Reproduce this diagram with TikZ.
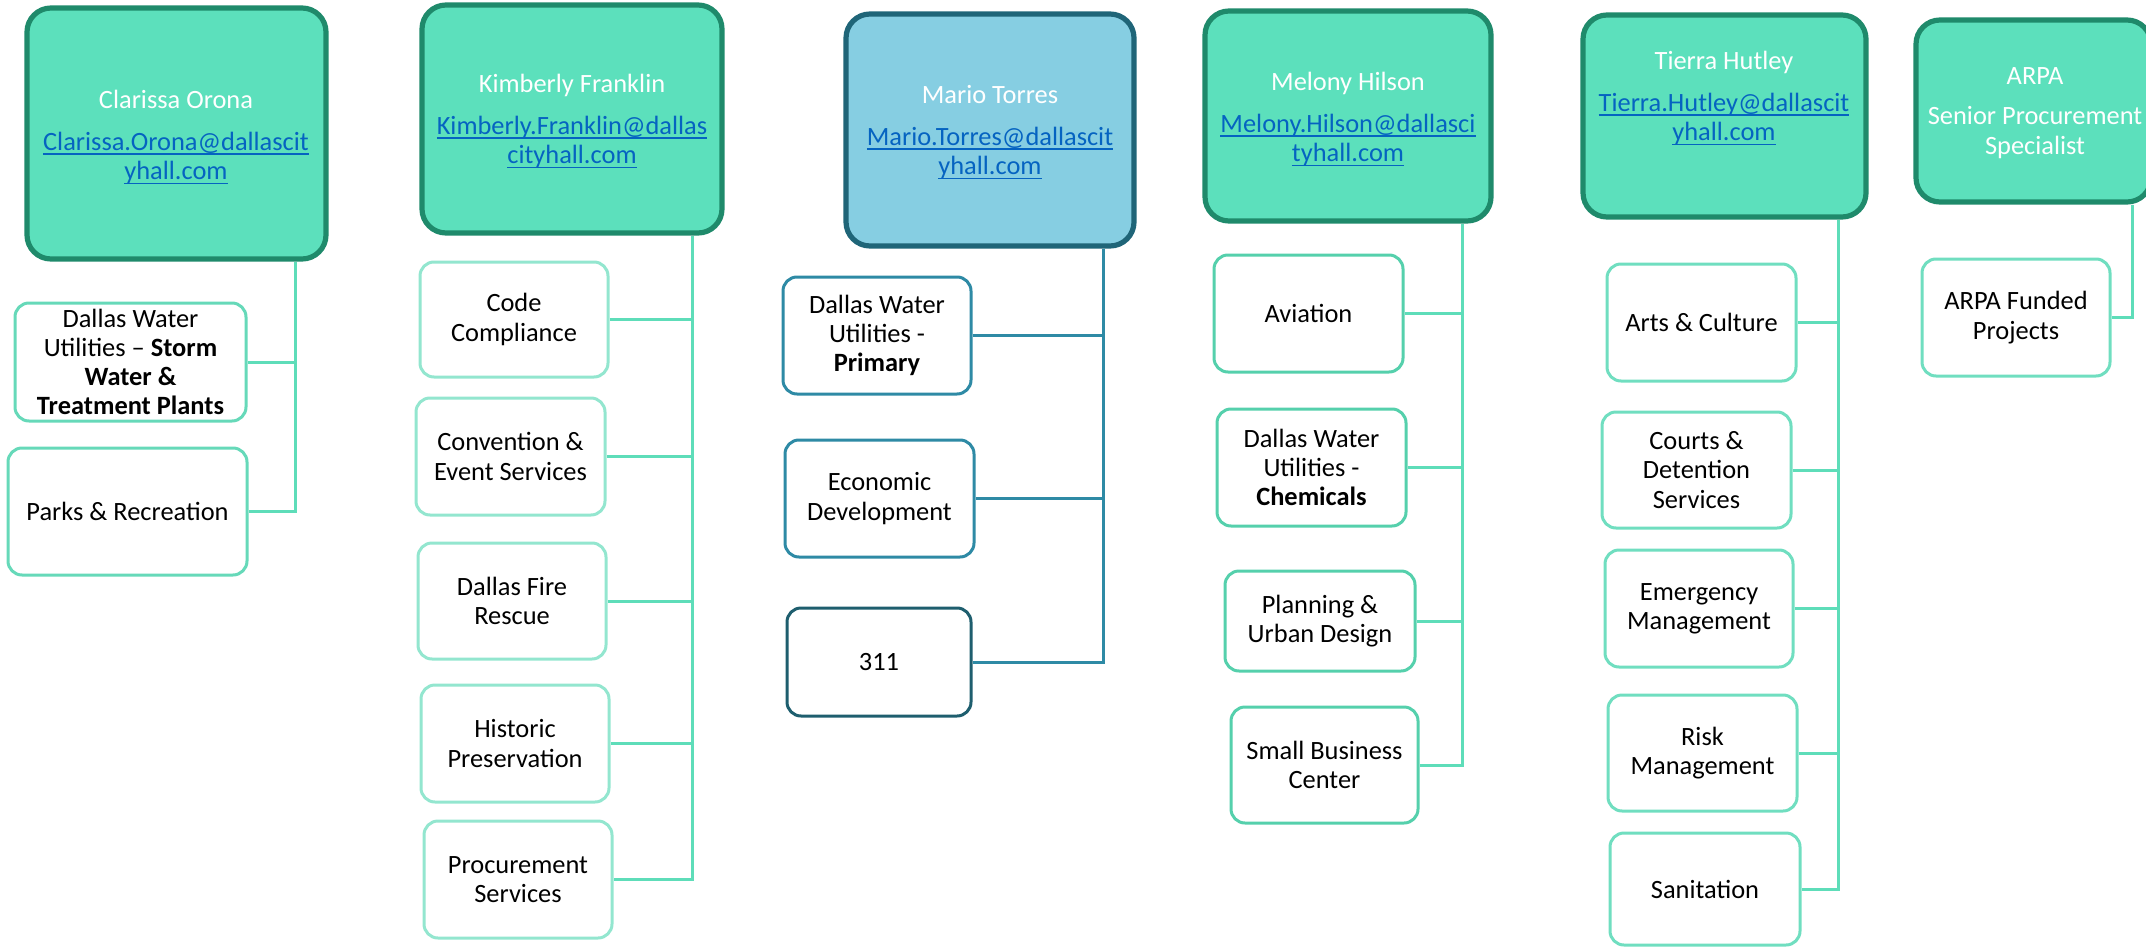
\documentclass[tikz,border=0pt]{standalone}
\usepackage{fontspec}
\setmainfont{Carlito}
\usetikzlibrary{backgrounds}
\definecolor{hfill}{HTML}{5CE0BC}
\definecolor{hdraw}{HTML}{1F8A6B}
\definecolor{mfill}{HTML}{86CEE2}
\definecolor{mdraw}{HTML}{1F6578}
\definecolor{gline}{HTML}{5EDDB9}
\definecolor{bline}{HTML}{2E8AA5}
\definecolor{lnkc}{HTML}{0563C1}
\definecolor{kbor}{HTML}{93E6CF}
\definecolor{cbor}{HTML}{66D9B9}
\definecolor{mbor}{HTML}{55D0AC}
\definecolor{tbor}{HTML}{70DEC0}
\definecolor{mthree}{HTML}{1E5E6E}
\newcommand{\fs}{\fontsize{13.2pt}{14.6pt}\selectfont}
\newcommand{\lnk}[1]{{\color{lnkc}\setbox0\hbox{#1}\rlap{\rule[-2.3pt]{\wd0}{0.75pt}}\box0}}
\newcommand{\bx}[7]{\node[#2, minimum width={(#5-#3-2)*0.5pt}, minimum height={(#6-#4-2)*0.5pt}] (#1) at ({(#3+#5)/2},{(#4+#6)/2}) {#7};}
\tikzset{
  hdr/.style={draw=hdraw, fill=hfill, line width=2.6pt, rounded corners=12pt, inner sep=0pt},
  mhdr/.style={hdr, draw=mdraw, fill=mfill},
  kid/.style={draw, fill=white, line width=1.5pt, rounded corners=7pt, inner sep=0pt, align=center, font=\fs, text=black},
  htxt/.style={align=center, font=\fs, text=white, inner sep=0pt},
  gconn/.style={draw=gline, line width=1.5pt},
  bconn/.style={draw=bline, line width=1.5pt}
}
\begin{document}
\begin{tikzpicture}[x=0.5pt, y=-0.5pt]
\useasboundingbox (0,0) rectangle (2146,947);
% headers
\bx{h1}{hdr}{26}{7}{327}{260}{}
\bx{h2}{hdr}{421}{4}{723}{234}{}
\bx{h3}{mhdr}{845}{13}{1135}{247}{}
\bx{h4}{hdr}{1204}{10}{1492}{222}{}
\bx{h5}{hdr}{1582}{14}{1867}{218}{}
\bx{h6}{hdr}{1915}{19}{2152}{203}{}
% header texts
\node[htxt] (t1) at (176,137) {Clarissa Orona\\[6.5pt]\lnk{Clarissa.Orona@dallascit}\\\lnk{yhall.com}};
\node[htxt] (t2) at (572,121) {Kimberly Franklin\\[6.5pt]\lnk{Kimberly.Franklin@dallas}\\\lnk{cityhall.com}};
\node[htxt] (t3) at (990,132) {Mario Torres\\[6.5pt]\lnk{Mario.Torres@dallascit}\\\lnk{yhall.com}};
\node[htxt] (t4) at (1348,119) {Melony Hilson\\[6.5pt]\lnk{Melony.Hilson@dallasci}\\\lnk{tyhall.com}};
\node[htxt] (t5) at (1724,98) {Tierra Hutley\\[6.5pt]\lnk{Tierra.Hutley@dallascit}\\\lnk{yhall.com}};
\node[htxt] (t6) at (2035,113) {ARPA\\[5.5pt]Senior Procurement\\Specialist};
% Clarissa children
\bx{k1a}{kid, draw=cbor}{14}{302}{247}{422}{Dallas Water\\Utilities -- \textbf{Storm}\\\textbf{Water \&}\\\textbf{Treatment Plants}}
\bx{k1b}{kid, draw=cbor}{7}{447}{248}{576}{Parks \& Recreation}
% Kimberly children
\bx{k2a}{kid, draw=kbor}{419}{261}{609}{378}{Code\\Compliance}
\bx{k2b}{kid, draw=kbor}{415}{397}{606}{516}{Convention \&\\Event Services}
\bx{k2c}{kid, draw=kbor}{417}{542}{607}{660}{Dallas Fire\\Rescue}
\bx{k2d}{kid, draw=kbor}{420}{684}{610}{803}{Historic\\Preservation}
\bx{k2e}{kid, draw=kbor}{423}{820}{613}{939}{Procurement\\Services}
% Mario children
\bx{k3a}{kid, draw=bline}{782}{276}{972}{395}{Dallas Water\\Utilities -\\\textbf{Primary}}
\bx{k3b}{kid, draw=bline}{784}{439}{975}{558}{Economic\\Development}
\bx{k3c}{kid, draw=mthree}{786}{607}{972}{717}{311}
% Melony children
\bx{k4a}{kid, draw=mbor}{1213}{254}{1404}{373}{Aviation}
\bx{k4b}{kid, draw=mbor}{1216}{408}{1407}{527}{Dallas Water\\Utilities -\\\textbf{Chemicals}}
\bx{k4c}{kid, draw=mbor}{1224}{570}{1416}{672}{Planning \&\\Urban Design}
\bx{k4d}{kid, draw=mbor}{1230}{706}{1419}{824}{Small Business\\Center}
% Tierra children
\bx{k5a}{kid, draw=tbor}{1606}{263}{1797}{382}{Arts \& Culture}
\bx{k5b}{kid, draw=tbor}{1601}{411}{1792}{529}{Courts \&\\Detention\\Services}
\bx{k5c}{kid, draw=tbor}{1604}{549}{1794}{668}{Emergency\\Management}
\bx{k5d}{kid, draw=tbor}{1607}{694}{1798}{812}{Risk\\Management}
\bx{k5e}{kid, draw=tbor}{1609}{832}{1801}{946}{Sanitation}
% ARPA child
\bx{k6a}{kid, draw=tbor}{1921}{258}{2111}{377}{ARPA Funded\\Projects}
% connectors
\coordinate (v1) at (295,0);
\coordinate (v2) at (692,0);
\coordinate (v3) at (1103,0);
\coordinate (v4) at (1462,0);
\coordinate (v5) at (1838,0);
\coordinate (v6) at (2132,0);
\begin{scope}[on background layer]
\draw[gconn] (h1.south -| v1) |- (k1b.east);
\draw[gconn] (k1a.east) -- (k1a.east -| v1);
\draw[gconn] (h2.south -| v2) |- (k2e.east);
\foreach \k in {k2a,k2b,k2c,k2d} \draw[gconn] (\k.east) -- (\k.east -| v2);
\draw[bconn] (h3.south -| v3) |- (k3c.east);
\foreach \k in {k3a,k3b} \draw[bconn] (\k.east) -- (\k.east -| v3);
\draw[gconn] (h4.south -| v4) |- (k4d.east);
\foreach \k in {k4a,k4b,k4c} \draw[gconn] (\k.east) -- (\k.east -| v4);
\draw[gconn] (h5.south -| v5) |- (k5e.east);
\foreach \k in {k5a,k5b,k5c,k5d} \draw[gconn] (\k.east) -- (\k.east -| v5);
\draw[gconn] (h6.south -| v6) |- (k6a.east);
\end{scope}
\end{tikzpicture}
\end{document}
